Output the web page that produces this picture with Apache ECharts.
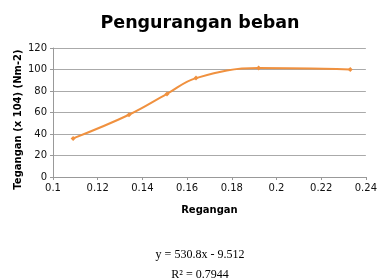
<!DOCTYPE html>
<html><head><meta charset="utf-8">
<script src="https://cdn.jsdelivr.net/npm/echarts@6/dist/echarts.min.js"></script>
<style>html,body{margin:0;padding:0;background:#fff}#c{width:380px;height:280px}</style>
</head><body><div id="c"></div>
<script>
const regangan = [0.109, 0.134, 0.151, 0.164, 0.192, 0.233];
const tegangan = [35.9, 57.9, 77.3, 92.0, 101.3, 100.0];
const titleText = 'Pengurangan beban';
const xName = 'Regangan';
const yName = 'Tegangan (x 104) (Nm-2)';
const equation = 'y = 530.8x - 9.512';
const rSquared = 'R² = 0.7944';

const chart = echarts.init(document.getElementById('c'), null, {renderer:'canvas'});
chart.setOption({
  animation:false,
  backgroundColor:'#fff',
  title:[
    {text:titleText, left:195, top:9, textAlign:'center', textStyle:{fontFamily:'DejaVu Sans', fontWeight:'bold', fontSize:17.5, color:'#000'}},
    {text:equation, left:195, top:244, textAlign:'center', textStyle:{fontFamily:'Liberation Serif', fontWeight:'normal', fontSize:12, color:'#000'}},
    {text:rSquared, left:195, top:264, textAlign:'center', textStyle:{fontFamily:'Liberation Serif', fontWeight:'normal', fontSize:12, color:'#000'}}
  ],
  grid:{left:53, right:11, top:48, bottom:103},
  xAxis:{type:'value', min:0.1, max:0.24, interval:0.02,
    name:xName, nameLocation:'middle', nameGap:28,
    nameTextStyle:{fontFamily:'DejaVu Sans', fontWeight:'bold', fontSize:10, color:'#000'},
    axisLine:{lineStyle:{color:'#999'}}, axisTick:{show:true, length:3, lineStyle:{color:'#999'}},
    axisLabel:{fontFamily:'DejaVu Sans', fontSize:10, color:'#111', margin:6,
      formatter:v=>String(parseFloat(v.toFixed(2)))},
    splitLine:{show:false}},
  yAxis:{type:'value', min:0, max:120, interval:20,
    name:yName, nameLocation:'middle', nameGap:35, nameRotate:90, nameMoveOverlap:false,
    nameTextStyle:{fontFamily:'DejaVu Sans', fontWeight:'bold', fontSize:10, color:'#000', verticalAlign:'middle', padding:[0,14,0,0]},
    axisLine:{show:true, lineStyle:{color:'#999'}}, axisTick:{show:true, length:3, lineStyle:{color:'#999'}},
    axisLabel:{fontFamily:'DejaVu Sans', fontSize:10, color:'#111', margin:6},
    splitLine:{lineStyle:{color:'#aaa', width:1}}},
  series:[{type:'line', smooth:0.4, data:regangan.map((x,i)=>[x,tegangan[i]]),
    lineStyle:{color:'#F0913F', width:2},
    symbol:'diamond', symbolSize:5, itemStyle:{color:'#F0913F'}}]
});
</script></body></html>
